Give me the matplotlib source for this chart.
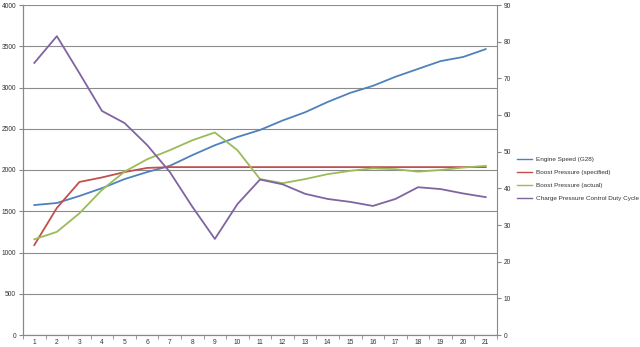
import matplotlib
matplotlib.use("Agg")
import matplotlib.pyplot as plt
from matplotlib.lines import Line2D

plt.rcParams['font.family'] = ['Liberation Sans', 'DejaVu Sans']

categories = list(range(1, 22))
engine_speed = [1575, 1600, 1685, 1780, 1890, 1975, 2050, 2180, 2300, 2400, 2485,
                2600, 2700, 2825, 2935, 3020, 3130, 3225, 3320, 3370, 3465]
boost_specified = [1090, 1540, 1855, 1910, 1975, 2025, 2035, 2035, 2035, 2035, 2035,
                   2035, 2035, 2035, 2035, 2035, 2035, 2035, 2035, 2035, 2035]
boost_actual = [1160, 1250, 1475, 1760, 1980, 2130, 2240, 2360, 2455, 2240, 1890,
                1840, 1890, 1950, 1990, 2020, 2010, 1980, 2000, 2030, 2050]
duty_cycle = [74.2, 81.5, 71.4, 61.1, 57.8, 51.8, 44.5, 35.0, 26.2, 35.7, 42.4,
              41.1, 38.5, 37.1, 36.3, 35.2, 37.1, 40.3, 39.8, 38.6, 37.6]
series_names = ["Engine Speed (G28)", "Boost Pressure (specified)",
                "Boost Pressure (actual)", "Charge Pressure Control Duty Cycle"]
left_ticks = [0, 500, 1000, 1500, 2000, 2500, 3000, 3500, 4000]
right_ticks = [0, 10, 20, 30, 40, 50, 60, 70, 80, 90]

colors = ["#4F81BD", "#C0504D", "#9BBB59", "#8064A2"]

fig = plt.figure(figsize=(6.4, 3.47), dpi=100)
ax = fig.add_axes([23/640, 12/347, (497-23)/640, (335-5)/347])
ax2 = ax.twinx()

lw = 1.3
ax.plot(categories, engine_speed, color=colors[0], lw=lw)
ax.plot(categories, boost_specified, color=colors[1], lw=lw)
ax.plot(categories, boost_actual, color=colors[2], lw=lw)
ax2.plot(categories, duty_cycle, color=colors[3], lw=lw)

ax.set_xlim(0.5, 21.5)
ax.set_ylim(0, 4000)
ax2.set_ylim(0, 90)
ax.set_yticks(left_ticks)
ax2.set_yticks(right_ticks)
ax.set_xticks(categories)
ax.set_xticks([c - 0.5 for c in categories] + [21.5], minor=True)

for a in (ax, ax2):
    a.spines["top"].set_visible(False)
ax.spines["right"].set_visible(False)
for s in ("left", "right", "bottom"):
    ax2.spines[s].set_color("#888888")
    ax.spines[s].set_color("#888888")

ax.yaxis.grid(True, color="#8c8c8c", lw=0.8)
ax.set_axisbelow(True)

fs = 4.8
ax.tick_params(axis="x", which="major", length=0, labelsize=fs, pad=3, colors="#333333")
ax.tick_params(axis="x", which="minor", length=3, color="#888888", direction="out")
ax.tick_params(axis="y", length=3, color="#888888", labelsize=fs, pad=2, labelcolor="#333333")
ax2.tick_params(axis="y", length=3, color="#888888", labelsize=fs, pad=2, labelcolor="#333333")

handles = [Line2D([0], [0], color=c, lw=1.0) for c in colors]
fig.legend(handles, series_names, loc="upper left", bbox_to_anchor=(515/640, 1 - 155/347),
           frameon=False, fontsize=4.6, handlelength=2.4, handletextpad=0.55,
           labelspacing=1.15, labelcolor="#333333", borderaxespad=0, borderpad=0.3)

fig.savefig("out.png", dpi=100)
